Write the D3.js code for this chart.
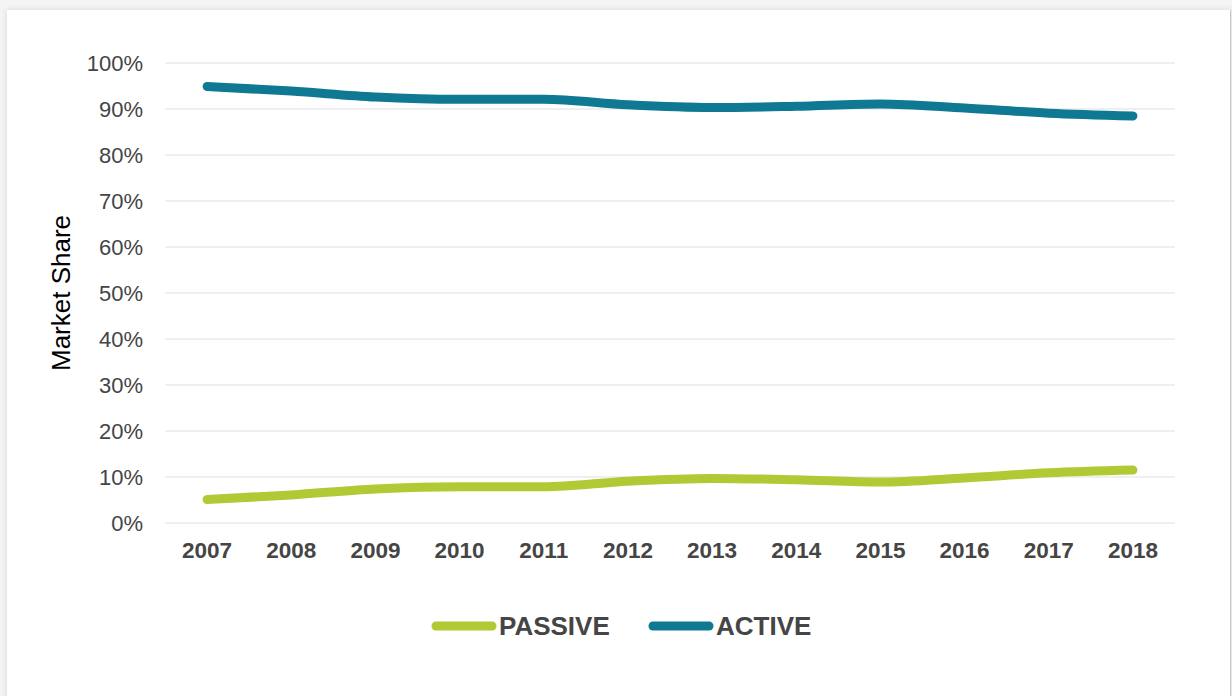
<!DOCTYPE html>
<html><head><meta charset="utf-8">
<script src="https://cdn.jsdelivr.net/npm/d3@7"></script>
<style>
html,body{margin:0;padding:0;width:1232px;height:696px;overflow:hidden;background:#f4f4f4;}
#card{position:absolute;left:7px;top:10px;width:1223px;height:700px;background:#fff;box-shadow:0 0 6px rgba(0,0,0,0.12);border-right:1px solid #c8c8c8;}
svg{position:absolute;left:0;top:0;}
</style></head>
<body><div id="card"></div><svg id="chart" width="1232" height="696"></svg>
<script>
const years = ["2007","2008","2009","2010","2011","2012","2013","2014","2015","2016","2017","2018"];
const passive = [5.1, 6.1, 7.4, 7.9, 7.9, 9.1, 9.7, 9.4, 8.9, 9.8, 10.9, 11.5];
const active = [94.9, 93.9, 92.6, 92.1, 92.1, 90.9, 90.3, 90.6, 91.1, 90.2, 89.1, 88.5];
const yTicks = [0,10,20,30,40,50,60,70,80,90,100];
const seriesNames = ["PASSIVE","ACTIVE"];
const colors = {PASSIVE:"#afca35", ACTIVE:"#0f7893"};

(function(){
const svg = d3.select("#chart");
const mLeft = 165, mRight = 1175, mTop = 63, mBottom = 523;
const x = d3.scaleBand().domain(years).range([mLeft,mRight]);
const y = d3.scaleLinear().domain([0,100]).range([mBottom,mTop]);
const font = "Liberation Sans, Arial, sans-serif";

// gridlines
svg.append("g").selectAll("line").data(yTicks).join("line")
  .attr("x1",mLeft).attr("x2",mRight)
  .attr("y1",d=>y(d)).attr("y2",d=>y(d))
  .attr("stroke","#efefef").attr("stroke-width",2);

// y axis labels
const yAxis = d3.axisLeft(y).tickValues(yTicks).tickFormat(d=>d+"%").tickSize(0).tickPadding(0);
const yg = svg.append("g").attr("transform",`translate(143,0)`).call(yAxis);
yg.select(".domain").remove();
yg.selectAll("text").attr("font-family",font).attr("font-size",22).attr("fill","#454545").attr("dy","0.35em");

// x axis labels
const xAxis = d3.axisBottom(x).tickSize(0).tickPadding(0);
const xg = svg.append("g").attr("transform",`translate(0,${mBottom+19})`).call(xAxis);
xg.select(".domain").remove();
xg.selectAll("text").attr("font-family",font).attr("font-size",22.5).attr("font-weight","bold").attr("fill","#454545").attr("dy","0.71em");

// y title
svg.append("text").attr("transform","translate(70,293) rotate(-90)")
  .attr("text-anchor","middle").attr("font-family",font).attr("font-size",26)
  .attr("fill","#000").text("Market Share");

// lines
const line = d3.line().x((d,i)=>x(years[i])+x.bandwidth()/2).y(d=>y(d)).curve(d3.curveMonotoneX);
const data = {PASSIVE:passive, ACTIVE:active};
seriesNames.forEach(n=>{
  svg.append("path").datum(data[n]).attr("d",line)
    .attr("fill","none").attr("stroke",colors[n]).attr("stroke-width",9)
    .attr("stroke-linecap","round").attr("stroke-linejoin","round");
});

// legend
const legendItems = [{n:"PASSIVE",x1:436,x2:492,tx:499},{n:"ACTIVE",x1:653,x2:709,tx:716}];
const lg = svg.append("g");
legendItems.forEach(it=>{
  lg.append("line").attr("x1",it.x1).attr("x2",it.x2).attr("y1",626).attr("y2",626)
    .attr("stroke",colors[it.n]).attr("stroke-width",9).attr("stroke-linecap","round");
  lg.append("text").attr("x",it.tx).attr("y",635).attr("font-family",font).attr("font-size",26)
    .attr("font-weight","bold").attr("fill","#454545").text(it.n);
});
})();
</script></body></html>
